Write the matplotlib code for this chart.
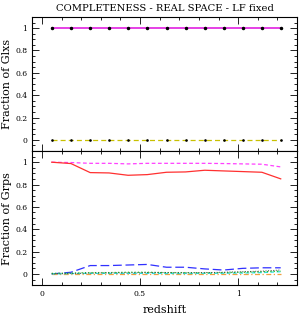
import matplotlib
matplotlib.use('Agg')
import matplotlib.pyplot as plt
from matplotlib.ticker import MultipleLocator, FormatStrFormatter

# redshift bin centres
z = [0.050, 0.148, 0.246, 0.342, 0.439, 0.537, 0.635, 0.732, 0.830, 0.926, 1.024, 1.121, 1.217]

# top panel: fraction of galaxies
glx_ok = [1.0] * 13
glx_bad = [0.0] * 13

# bottom panel: fraction of groups
grp_any = [1.0, 0.997, 0.99, 0.99, 0.985, 0.99, 0.99, 0.99, 0.99, 0.988, 0.985, 0.982, 0.958]
grp_good = [1.0, 0.988, 0.907, 0.904, 0.883, 0.889, 0.91, 0.913, 0.928, 0.922, 0.916, 0.91, 0.851]
grp_split = [0.0, 0.015, 0.075, 0.075, 0.08, 0.085, 0.06, 0.06, 0.045, 0.035, 0.05, 0.055, 0.055]
grp_green = [0.005, 0.008, 0.012, 0.012, 0.015, 0.015, 0.012, 0.012, 0.01, 0.012, 0.015, 0.02, 0.025]
grp_cyan = [0.0, 0.003, 0.005, 0.005, 0.005, 0.005, 0.004, 0.004, 0.005, 0.006, 0.008, 0.012, 0.02]
grp_black = [0.0, 0.004, 0.008, 0.01, 0.01, 0.012, 0.012, 0.01, 0.012, 0.015, 0.02, 0.025, 0.035]
grp_orange = [0.0] * 13

plt.rcParams['font.family'] = 'DejaVu Serif'

fig = plt.figure(figsize=(3.0, 3.14), dpi=100)
ax1 = fig.add_axes([0.107, 0.519, 0.883, 0.427])
ax2 = fig.add_axes([0.107, 0.092, 0.883, 0.427])

ax1.plot(z, glx_ok, color='#e020e0', lw=1.2, zorder=2)
ax1.plot(z, glx_ok, 'o', color='black', ms=1.5, zorder=3)
ax1.plot(z, glx_bad, color='#c8c000', lw=0.9, dashes=(4, 2.5), zorder=2)
ax1.plot(z, glx_bad, 'o', color='black', ms=0.9, zorder=3)

ax2.plot(z, grp_any, color='#ff40ff', lw=0.9, dashes=(3, 2))
ax2.plot(z, grp_good, color='#ff3030', lw=0.9)
ax2.plot(z, grp_split, color='#3030ff', lw=0.9, dashes=(7, 3))
ax2.plot(z, grp_orange, color='#f0a040', lw=0.9, dashes=(4, 2, 1, 2))
ax2.plot(z, grp_cyan, color='#30e0e0', lw=0.9, dashes=(3, 2))
ax2.plot(z, grp_green, color='#20c020', lw=0.9, ls=':')
ax2.plot(z, grp_black, color='#404040', lw=0.7, ls=':')

for ax in (ax1, ax2):
    ax.set_xlim(-0.05, 1.3)
    ax.set_ylim(-0.1, 1.1)
    ax.xaxis.set_major_locator(MultipleLocator(0.5))
    ax.xaxis.set_minor_locator(MultipleLocator(0.1))
    ax.yaxis.set_major_locator(MultipleLocator(0.2))
    ax.yaxis.set_minor_locator(MultipleLocator(0.05))
    ax.yaxis.set_major_formatter(FormatStrFormatter('%g'))
    ax.xaxis.set_major_formatter(FormatStrFormatter('%g'))
    ax.tick_params(which='both', direction='in', top=True, right=True, labelsize=5.5, width=0.6)
    ax.tick_params(which='major', length=5)
    ax.tick_params(which='minor', length=2.5)
    for s in ax.spines.values():
        s.set_linewidth(0.8)

ax1.tick_params(labelbottom=False)
ax1.set_ylabel('Fraction of Glxs', fontsize=8, labelpad=2)
ax2.set_ylabel('Fraction of Grps', fontsize=8, labelpad=2)
ax2.set_xlabel('redshift', fontsize=8, labelpad=5)
ax1.set_title('COMPLETENESS - REAL SPACE - LF fixed', fontsize=7.2, pad=4)

fig.savefig('out.png', dpi=100)
